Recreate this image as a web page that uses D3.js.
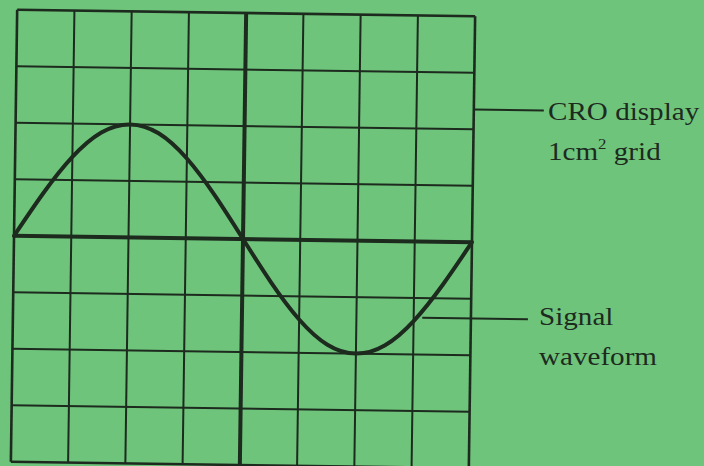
<!DOCTYPE html>
<html>
<head>
<meta charset="utf-8">
<script src="https://cdn.jsdelivr.net/npm/d3@7"></script>
<style>
  html, body { margin: 0; padding: 0; background: #6fc47c; }
  svg { display: block; }
  text { font-family: "Liberation Serif", "Times New Roman", serif; fill: #1d2a1e; }
</style>
</head>
<body>
<script>
// grid divisions of the CRO screen (1 cm squares)
var gridCols = [0, 1, 2, 3, 4, 5, 6, 7, 8];
var gridRows = [-4, -3, -2, -1, 0, 1, 2, 3, 4];

// signal: time (divisions) and amplitude (divisions)
var sigTime = [0, 0.5, 1, 1.5, 2, 2.5, 3, 3.5, 4, 4.5, 5, 5.5, 6, 6.5, 7, 7.5, 8];
var sigVolt = [0, 0.76, 1.41, 1.85, 2, 1.85, 1.41, 0.76, 0, -0.76, -1.41, -1.85, -2, -1.85, -1.41, -0.76, 0];

var labels = [["CRO display", "1cm|2| grid"], ["Signal", "waveform"]];

var width = 704,
    height = 466,
    ink = "#1d2a1e";

var x = d3.scaleLinear().domain([0, 8]).range([14, 472]);
var y = d3.scaleLinear().domain([-4, 4]).range([465, 13]);

var svg = d3.select("body").append("svg")
    .attr("width", width)
    .attr("height", height);

svg.append("rect")
    .attr("width", width)
    .attr("height", height)
    .style("fill", "#6fc47c");

// the scan is slightly tilted
var screen = svg.append("g")
    .attr("transform", "rotate(0.8," + x(4) + "," + y(0) + ")");

screen.selectAll(".vline")
    .data(gridCols)
  .enter().append("line")
    .attr("class", "vline")
    .attr("x1", function(d) { return x(d); })
    .attr("x2", function(d) { return x(d); })
    .attr("y1", y(4))
    .attr("y2", y(-4))
    .style("stroke", ink)
    .style("stroke-width", function(d) { return d == 4 ? 4 : (d == 0 || d == 8 ? 2.6 : 2); });

screen.selectAll(".hline")
    .data(gridRows)
  .enter().append("line")
    .attr("class", "hline")
    .attr("y1", function(d) { return y(d); })
    .attr("y2", function(d) { return y(d); })
    .attr("x1", x(0))
    .attr("x2", x(8))
    .style("stroke", ink)
    .style("stroke-width", function(d) { return d == 0 ? 4 : (Math.abs(d) == 4 ? 2.6 : 2); });

var line = d3.line()
    .x(function(d, i) { return x(sigTime[i]); })
    .y(function(d) { return y(d); })
    .curve(d3.curveNatural);

screen.append("path")
    .attr("d", line(sigVolt))
    .style("fill", "none")
    .style("stroke", ink)
    .style("stroke-width", 4)
    .style("stroke-linecap", "round");

// leader lines
screen.append("line")
    .attr("x1", x(8)).attr("x2", 542)
    .attr("y1", y(2.35)).attr("y2", y(2.35))
    .style("stroke", ink).style("stroke-width", 2);

screen.append("line")
    .attr("x1", x(7.15)).attr("x2", 529)
    .attr("y1", y(-1.35)).attr("y2", y(-1.35))
    .style("stroke", ink).style("stroke-width", 2);

// labels
function addLabel(lines, tx, ty) {
  var g = svg.append("g")
      .attr("transform", "translate(" + tx + "," + ty + ") scale(1.12,1)");
  lines.forEach(function(s, i) {
    var t = g.append("text")
        .attr("y", i * 40)
        .style("font-size", "26px");
    s.split("|").forEach(function(part, j) {
      var sp = t.append("tspan").text(part);
      if (j == 1) sp.style("font-size", "15px").attr("dy", -11);
      if (j == 2) sp.attr("dy", 11);
    });
  });
}

addLabel(labels[0], 548, 120);
addLabel(labels[1], 539, 325);
</script>
</body>
</html>
